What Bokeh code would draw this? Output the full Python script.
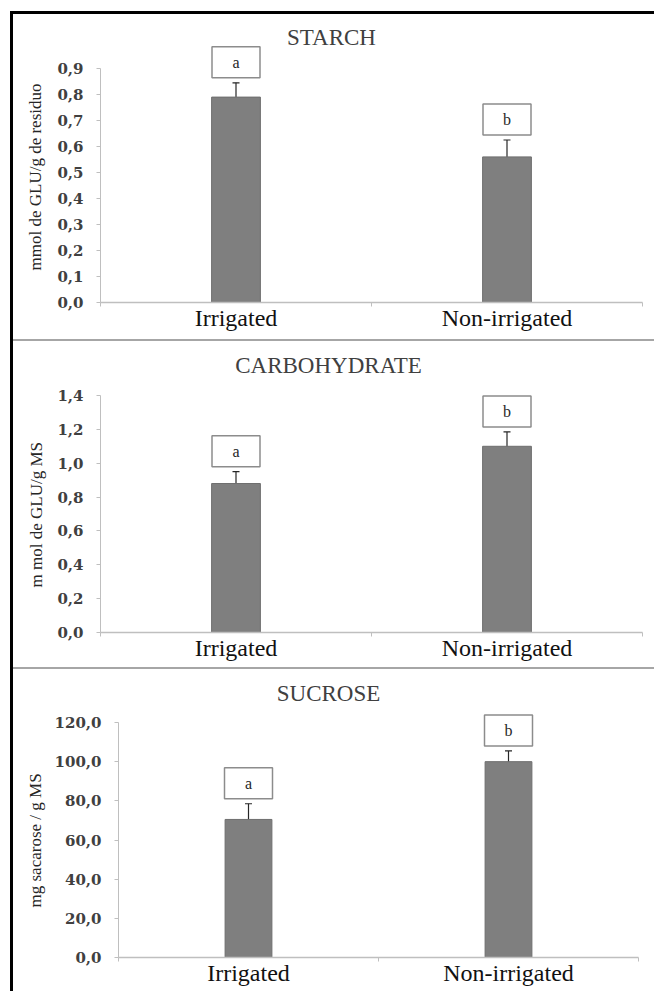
from bokeh.plotting import figure
from bokeh.models import (ColumnDataSource, Whisker, Label, FixedTicker, Title,
                          CustomJSTickFormatter, Range1d, Spacer, TeeHead)
from bokeh.layouts import row
from bokeh.embed import file_html
from bokeh.resources import INLINE
from bokeh.core.properties import value

# ---------------- data ----------------
categories = ["Irrigated", "Non-irrigated"]

starch_mean = [0.79, 0.56]
starch_err = [0.055, 0.065]
starch_letters = ["a", "b"]
starch_ticks = [0.0, 0.1, 0.2, 0.3, 0.4, 0.5, 0.6, 0.7, 0.8, 0.9]

carb_mean = [0.88, 1.10]
carb_err = [0.07, 0.085]
carb_letters = ["a", "b"]
carb_ticks = [0.0, 0.2, 0.4, 0.6, 0.8, 1.0, 1.2, 1.4]

sucrose_mean = [70.5, 100.0]
sucrose_err = [8.0, 5.5]
sucrose_letters = ["a", "b"]
sucrose_ticks = [0.0, 20.0, 40.0, 60.0, 80.0, 100.0, 120.0]

titles = ["STARCH", "CARBOHYDRATE", "SUCROSE"]
ylabels = ["mmol de GLU/g de residuo", "m mol de GLU/g MS", "mg sacarose / g MS"]

FIG_W = 641
BAR_COLOR = "#7f7f7f"
AXIS_COLOR = "#bfbfbf"
SERIF = "'Liberation Serif', serif"
WIDE_SERIF = "'DejaVu Serif', serif"


def make_panel(title, ylabel, means, errs, letters, ticks, left, fw, axis_top,
               fh, bottom, ylab_offset, ylab_standoff, title_x, title_y):
    n = len(categories)
    centers = [i + 0.5 for i in range(n)]
    upper = [m + e for m, e in zip(means, errs)]
    lower = [m - e for m, e in zip(means, errs)]
    axis_px = fh - axis_top                     # pixels between 0 and the top tick
    y_end = ticks[-1] * fh / axis_px            # frame extends above the top tick
    dpp = (y_end - ticks[0]) / fh
    box_h, box_w, gap = 31, 48, 5
    box_y = [u + (gap + box_h / 2) * dpp for u in upper]

    src = ColumnDataSource(dict(x=centers, top=means, upper=upper, lower=lower,
                                by=box_y, letter=letters))

    right = FIG_W - left - fw
    p = figure(frame_width=fw, frame_height=fh,
               min_border_left=left, min_border_right=right,
               min_border_top=0, min_border_bottom=bottom,
               x_range=Range1d(0, n), y_range=Range1d(ticks[0], y_end),
               output_backend="svg", toolbar_location=None)
    p.outline_line_color = None
    p.xgrid.grid_line_color = None
    p.ygrid.grid_line_color = None
    p.background_fill_color = "white"
    p.border_fill_color = "white"

    p.vbar(x="x", top="top", width=0.18, source=src,
           fill_color=BAR_COLOR, line_color="#6e6e6e", line_width=1)

    wh = Whisker(base="x", upper="upper", lower="lower", source=src,
                 line_color="#262626", line_width=1.2,
                 upper_head=TeeHead(size=7, line_color="#262626", line_width=1.2),
                 lower_head=TeeHead(size=7, line_color="#262626", line_width=1.2))
    p.add_layout(wh)

    p.rect(x="x", y="by", width=box_w, height=box_h, width_units="screen",
           height_units="screen", source=src, fill_color="white",
           line_color="#8c8c8c", line_width=1.5)
    p.text(x="x", y="by", text="letter", source=src, text_align="center",
           text_baseline="middle", text_font=value(SERIF),
           text_font_size="16px", text_color="#262626")

    # x axis
    xa = p.xaxis[0]
    xa.ticker = FixedTicker(ticks=centers, minor_ticks=list(range(n + 1)))
    xa.formatter = CustomJSTickFormatter(args=dict(labels=categories),
                                         code="return labels[Math.floor(tick)];")
    xa.axis_line_color = AXIS_COLOR
    xa.axis_line_width = 1.5
    xa.major_tick_line_color = None
    xa.major_tick_out = 0
    xa.major_tick_in = 0
    xa.minor_tick_line_color = AXIS_COLOR
    xa.minor_tick_out = 4
    xa.minor_tick_in = 0
    xa.major_label_standoff = -2
    xa.major_label_text_font = SERIF
    xa.major_label_text_font_size = "24px"
    xa.major_label_text_color = "#111111"

    # y axis
    ya = p.yaxis[0]
    ya.bounds = (ticks[0], ticks[-1])
    ya.ticker = FixedTicker(ticks=ticks)
    ya.formatter = CustomJSTickFormatter(code="return tick.toFixed(1).replace('.', ',');")
    ya.axis_line_color = AXIS_COLOR
    ya.major_tick_line_color = AXIS_COLOR
    ya.major_tick_out = 4
    ya.major_tick_in = 0
    ya.minor_tick_line_color = None
    ya.major_label_standoff = 13
    ya.major_label_text_font = WIDE_SERIF
    ya.major_label_text_font_style = "bold"
    ya.major_label_text_font_size = "15px"
    ya.major_label_text_color = "#404040"

    # y-axis title, placed along the axis itself (not the whole frame)
    p.add_layout(Title(text=ylabel, align="left", offset=ylab_offset,
                       vertical_align="middle", standoff=ylab_standoff,
                       text_font=SERIF, text_font_style="normal",
                       text_font_size="17px", text_color="#262626"), "left")

    p.add_layout(Label(x=title_x - left, y=fh - title_y,
                       x_units="screen", y_units="screen", text=title,
                       text_align="center", text_baseline="middle",
                       text_font=SERIF, text_font_size="23px",
                       text_color="#404040"))
    return p


p1 = make_panel(titles[0], ylabels[0], starch_mean, starch_err, starch_letters,
                starch_ticks, 87, 542, 54, 288, 37, 32, 18, 318, 23)
p2 = make_panel(titles[1], ylabels[1], carb_mean, carb_err, carb_letters,
                carb_ticks, 87, 542, 54, 291, 35, 45, 16, 315, 24)
p3 = make_panel(titles[2], ylabels[2], sucrose_mean, sucrose_err, sucrose_letters,
                sucrose_ticks, 105, 520, 53, 288, 34, 50, 11, 315, 24)

ROOT_STYLE = {"margin-left": "10px"}


def black(w, h):
    return Spacer(width=w, height=h, styles={"background-color": "black"})


top_border = Spacer(width=FIG_W + 3, height=3,
                    styles={"background-color": "black", "display": "block",
                            "margin-left": "10px", "margin-top": "11px"})


def panel_row(p, h):
    return row(black(3, h), p, spacing=0, styles=ROOT_STYLE)


def sep_row():
    return row(black(3, 2),
               Spacer(width=FIG_W, height=2, styles={"background-color": "#a6a6a6"}),
               spacing=0, styles=ROOT_STYLE)


roots = [top_border,
         panel_row(p1, 325), sep_row(),
         panel_row(p2, 326), sep_row(),
         panel_row(p3, 322)]

open("out.html", "w").write(file_html(roots, INLINE))
